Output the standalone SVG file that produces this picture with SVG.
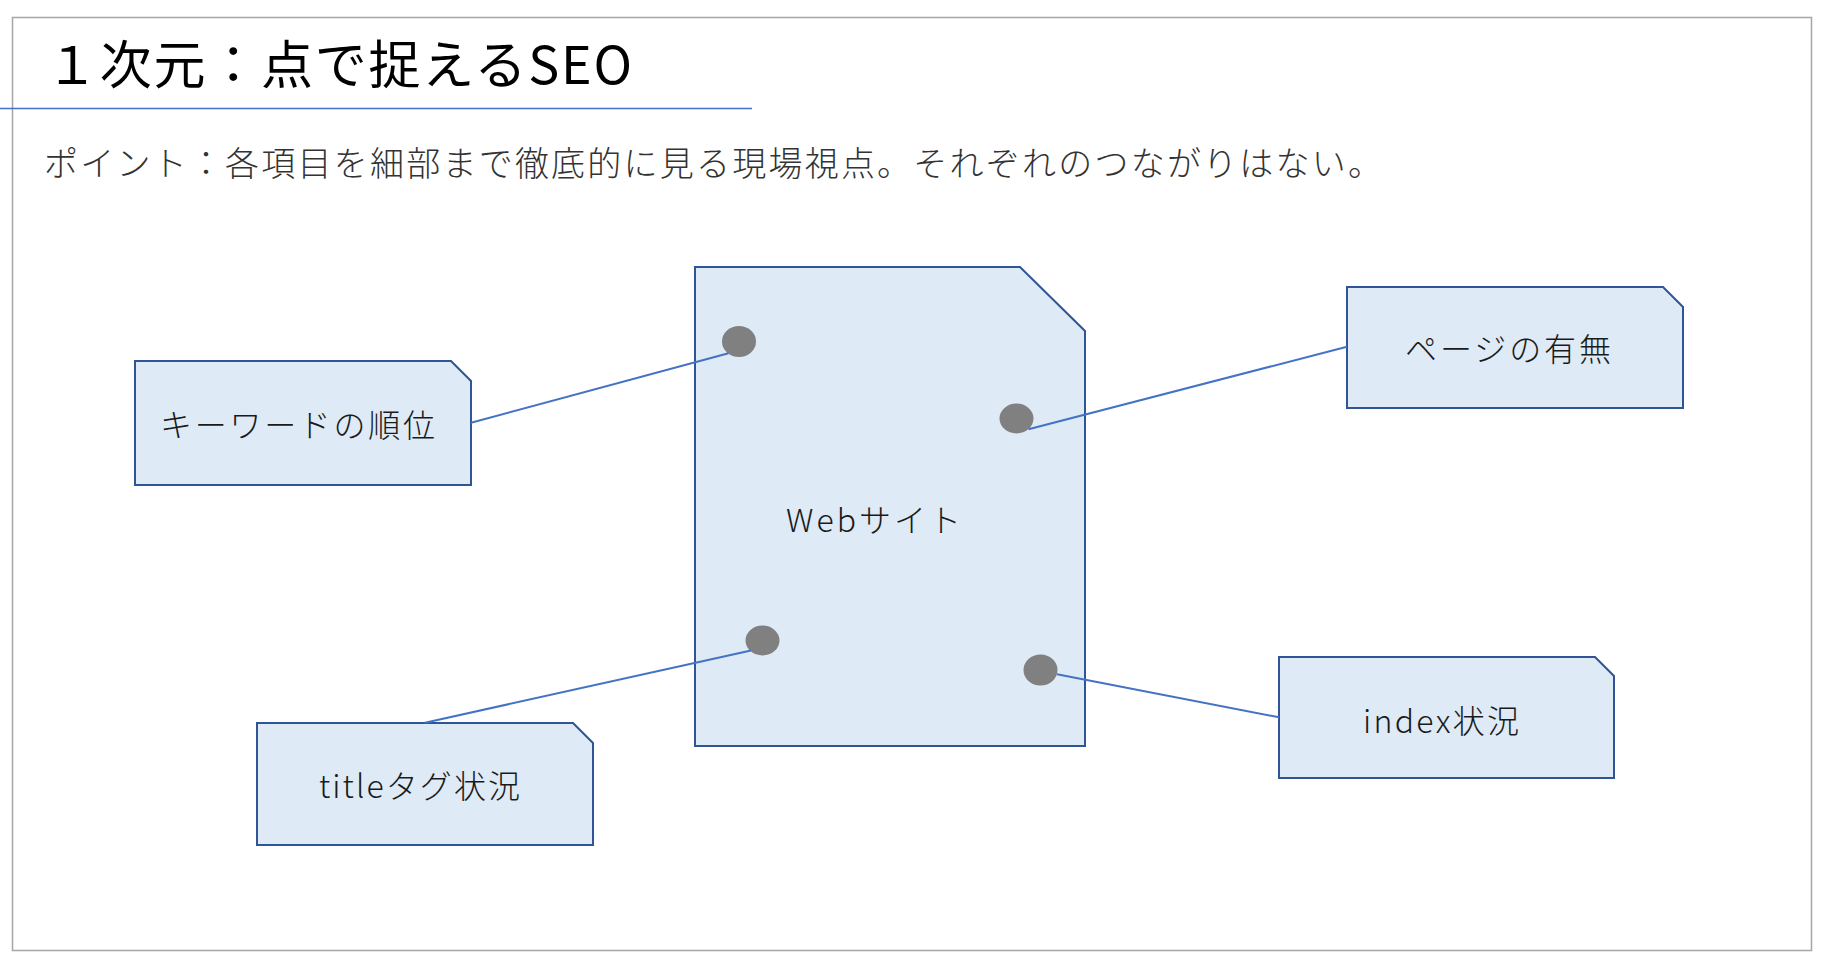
<svg xmlns="http://www.w3.org/2000/svg" width="1826" height="970" viewBox="0 0 1826 970">
<style>
.node{fill:#DEEAF6;stroke:#2F5597;stroke-width:2}
.dot{fill:#808080}
.conn{stroke:#4472C4;stroke-width:2;fill:none}
.lbl{font-family:"Noto Sans CJK JP","Noto Sans",sans-serif;font-size:32px;font-weight:300;fill:#1a1a1a}
</style>
<rect width="1826" height="970" fill="#ffffff"/>
<rect x="12.5" y="17.5" width="1799" height="933" fill="none" stroke="#A6A6A6" stroke-width="1.5"/>
<line x1="0" y1="108.5" x2="752" y2="108.5" stroke="#4472C4" stroke-width="1.5"/>
<text x="46" y="84" textLength="586" lengthAdjust="spacing" style="font-family:'Noto Sans CJK JP','Noto Sans',sans-serif;font-size:52px;fill:#000">１次元：点で捉えるSEO</text>
<text x="44" y="176" textLength="1338" lengthAdjust="spacing" style="font-family:'Noto Sans CJK JP','Noto Sans',sans-serif;font-size:34px;font-weight:300;fill:#333">ポイント：各項目を細部まで徹底的に見る現場視点。それぞれのつながりはない。</text>

<g id="website">
<path class="node" d="M695,267 H1020 L1085,331 V746 H695 Z"/>
<text class="lbl" x="786" y="532" textLength="175" lengthAdjust="spacing">Webサイト</text>
<ellipse class="dot" cx="739" cy="341.5" rx="17" ry="15.5"/>
<ellipse class="dot" cx="1016.5" cy="418.5" rx="17" ry="15"/>
<ellipse class="dot" cx="762.5" cy="640.5" rx="17" ry="15"/>
<ellipse class="dot" cx="1040.5" cy="670" rx="17" ry="15.5"/>
</g>

<g id="keyword">
<path class="node" d="M135,361 H451 L471,381 V485 H135 Z"/>
<text class="lbl" x="160" y="437" textLength="275" lengthAdjust="spacing">キーワードの順位</text>
</g>

<g id="page">
<path class="node" d="M1347,287 H1663 L1683,307 V408 H1347 Z"/>
<text class="lbl" x="1405" y="361" textLength="206" lengthAdjust="spacing">ページの有無</text>
</g>

<g id="titletag">
<path class="node" d="M257,723 H573 L593,743 V845 H257 Z"/>
<text class="lbl" x="319" y="798" textLength="201" lengthAdjust="spacing">titleタグ状況</text>
</g>

<g id="index">
<path class="node" d="M1279,657 H1595 L1614,676 V778 H1279 Z"/>
<text class="lbl" x="1363" y="733" textLength="156" lengthAdjust="spacing">index状況</text>
</g>

<g id="connectors">
<line class="conn" x1="471" y1="422.7" x2="728.5" y2="353.3"/>
<line class="conn" x1="1028.5" y1="429.3" x2="1347" y2="346.7"/>
<line class="conn" x1="425" y1="722.7" x2="751" y2="650.5"/>
<line class="conn" x1="1057" y1="674.3" x2="1279" y2="717.3"/>
</g>
</svg>
